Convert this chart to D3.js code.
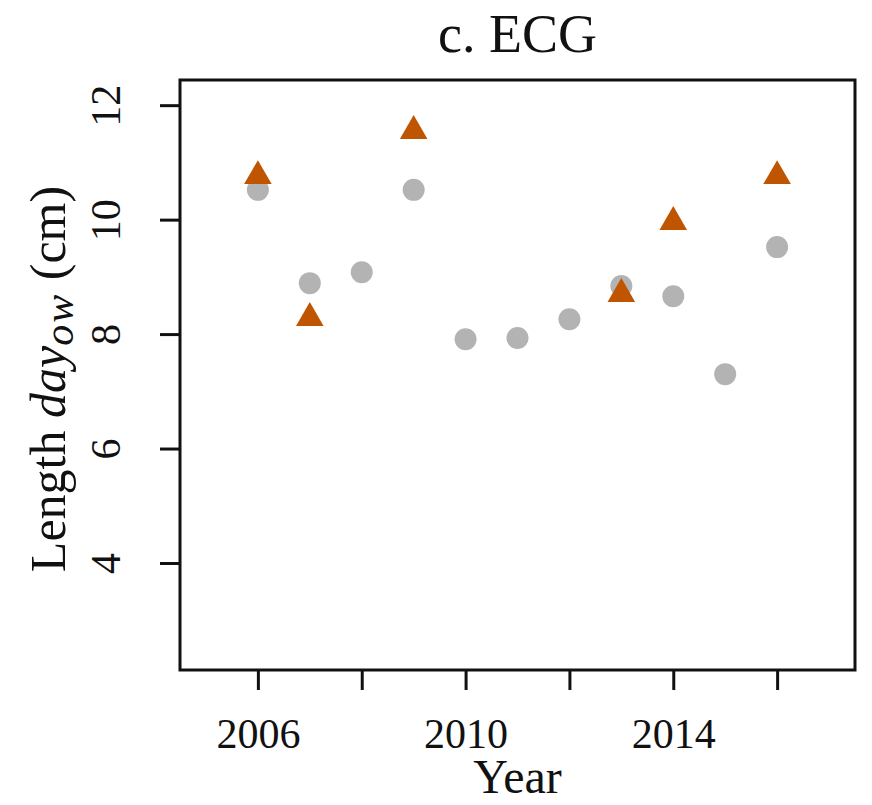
<!DOCTYPE html>
<html>
<head>
<meta charset="utf-8">
<script src="https://cdn.jsdelivr.net/npm/d3@7"></script>
<style>
  body { margin: 0; background: #fff; }
  text { font-family: "Liberation Serif", "DejaVu Serif", serif; fill: #111; }
</style>
</head>
<body>
<div id="chart"></div>
<script>
// data
const years = [2006, 2007, 2008, 2009, 2010, 2011, 2012, 2013, 2014, 2015, 2016];
const greyValues = [10.52, 8.89, 9.08, 10.52, 7.91, 7.93, 8.26, 8.84, 8.66, 7.30, 9.52];
const triYears = [2006, 2007, 2009, 2013, 2014, 2016];
const triValues = [10.76, 8.28, 11.55, 8.70, 9.96, 10.76];
const xTicks = [2006, 2008, 2010, 2012, 2014, 2016];
const xLabelled = [2006, 2010, 2014];
const yTicks = [4, 6, 8, 10, 12];

const W = 872, H = 805;
const margin = { top: 80, right: 17, bottom: 135, left: 180 };

const colors = {
  grey: "#b3b3b3",
  tri: "#bf5500",
  ink: "#111"
};

const svg = d3.select("#chart").append("svg")
    .attr("width", W)
    .attr("height", H);

const x = d3.scaleLinear().domain([2004.5, 2017.5]).range([margin.left, W - margin.right]);
const y = d3.scaleLinear().domain([2.13, 12.44]).range([H - margin.bottom, margin.top]);

// x axis (R style: ticks outside, only some labels)
const xAxis = svg.append("g")
    .attr("transform", `translate(0,${H - margin.bottom})`)
    .call(d3.axisBottom(x).tickValues(xTicks).tickSize(20).tickPadding(28)
      .tickFormat(d => xLabelled.includes(d) ? d : ""));
xAxis.select(".domain").remove();
xAxis.selectAll("line").attr("stroke", colors.ink).attr("stroke-width", 3);
xAxis.selectAll("text").attr("font-size", 42).attr("font-family", "Liberation Serif").attr("fill", colors.ink);

// y axis with rotated labels
const yAxis = svg.append("g")
    .attr("transform", `translate(${margin.left},0)`)
    .call(d3.axisLeft(y).tickValues(yTicks).tickSize(20));
yAxis.select(".domain").remove();
yAxis.selectAll("line").attr("stroke", colors.ink).attr("stroke-width", 3);
yAxis.selectAll("text")
    .attr("x", null).attr("dy", null)
    .attr("text-anchor", "middle")
    .attr("transform", "translate(-60,0) rotate(-90)")
    .attr("font-size", 42).attr("font-family", "Liberation Serif").attr("fill", colors.ink);

// plot box
svg.append("rect")
    .attr("x", margin.left)
    .attr("y", margin.top)
    .attr("width", W - margin.left - margin.right)
    .attr("height", H - margin.top - margin.bottom)
    .attr("fill", "none")
    .attr("stroke", colors.ink)
    .attr("stroke-width", 3);

// grey circles
svg.selectAll(".dot")
    .data(years.map((d, i) => ({ year: d, v: greyValues[i] })))
  .enter().append("circle")
    .attr("class", "dot")
    .attr("cx", d => x(d.year))
    .attr("cy", d => y(d.v))
    .attr("r", 11)
    .attr("fill", colors.grey);

// orange triangles
const tri = d3.symbol().type(d3.symbolTriangle).size(330);
svg.selectAll(".tri")
    .data(triYears.map((d, i) => ({ year: d, v: triValues[i] })))
  .enter().append("path")
    .attr("class", "tri")
    .attr("d", tri)
    .attr("transform", d => `translate(${x(d.year)},${y(d.v)})`)
    .attr("fill", colors.tri);

// title
svg.append("text")
    .attr("x", (margin.left + W - margin.right) / 2)
    .attr("y", 52)
    .attr("text-anchor", "middle")
    .attr("font-size", 54)
    .text("c. ECG");

// x label
svg.append("text")
    .attr("x", (margin.left + W - margin.right) / 2)
    .attr("y", 793)
    .attr("text-anchor", "middle")
    .attr("font-size", 48)
    .text("Year");

// y label
const yl = svg.append("text")
    .attr("transform", `translate(65,379) rotate(-90)`)
    .attr("text-anchor", "middle")
    .attr("font-size", 50);
yl.append("tspan").text("Length ");
yl.append("tspan").attr("font-style", "italic").text("day");
yl.append("tspan").attr("font-style", "italic").attr("font-size", 42).attr("dy", 8)
    .attr("letter-spacing", 2).text("ow");
yl.append("tspan").attr("dy", -8).text(" (cm)");
</script>
</body>
</html>
